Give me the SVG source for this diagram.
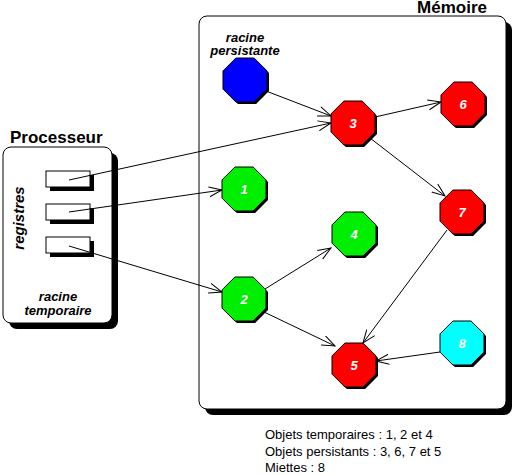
<svg xmlns="http://www.w3.org/2000/svg" xmlns:xlink="http://www.w3.org/1999/xlink" width="519" height="475" viewBox="0 0 519 475">
<style>
.title{font-family:"Liberation Sans",Arial,sans-serif;font-weight:bold;font-size:17px;fill:#000}
.lbl{font-family:"Liberation Sans",Arial,sans-serif;font-weight:bold;font-style:italic;font-size:13px;fill:#000;text-anchor:middle}
.num{font-family:"Liberation Sans",Arial,sans-serif;font-weight:bold;font-style:italic;font-size:13px;fill:#fff;text-anchor:middle}
.note{font-family:"Liberation Sans",Arial,sans-serif;font-size:13px;fill:#000}
.edge{stroke:#000;stroke-width:1;fill:none;marker-end:url(#arr)}
.oct{stroke:#000;stroke-width:1}
</style>
<defs>
<polygon id="oct" points="22,-9.1 22,9.1 9.1,22 -9.1,22 -22,9.1 -22,-9.1 -9.1,-22 9.1,-22"/>
<marker id="arr" viewBox="0 0 14 12" refX="13" refY="6" markerWidth="14" markerHeight="12" markerUnits="userSpaceOnUse" orient="auto">
<path d="M0,1 L13,6 L0,11" fill="none" stroke="#000" stroke-width="1"/>
</marker>
</defs>
<rect width="519" height="475" fill="#fff"/>

<g id="memoire">
<rect x="205" y="22" width="307" height="393" rx="8" fill="#000"/>
<rect x="199" y="16" width="307" height="393" rx="8" fill="#fff" stroke="#000" stroke-width="1"/>
<text class="title" x="487" y="13" text-anchor="end">Mémoire</text>
<text class="lbl" x="245" y="42">racine</text>
<text class="lbl" x="245" y="55">persistante</text>
</g>

<g id="processeur">
<rect x="9" y="153" width="109" height="176" rx="8" fill="#000"/>
<rect x="3" y="147" width="109" height="176" rx="8" fill="#fff" stroke="#000" stroke-width="1"/>
<text class="title" x="10" y="143">Processeur</text>
<text class="lbl" style="font-size:15px" transform="translate(24,218) rotate(-90)">registres</text>
<text class="lbl" x="58" y="301">racine</text>
<text class="lbl" x="58" y="315">temporaire</text>
<g id="reg1"><rect x="50" y="175" width="44" height="16" fill="#000"/><rect x="46" y="171" width="44" height="16" fill="#fff" stroke="#000"/></g>
<g id="reg2"><rect x="50" y="208" width="44" height="16" fill="#000"/><rect x="46" y="204" width="44" height="16" fill="#fff" stroke="#000"/></g>
<g id="reg3"><rect x="50" y="241" width="44" height="16" fill="#000"/><rect x="46" y="237" width="44" height="16" fill="#fff" stroke="#000"/></g>
</g>

<g id="connectors">
<line class="edge" x1="266" y1="91" x2="331" y2="116"/>
<line class="edge" x1="69" y1="180" x2="331" y2="123"/>
<line class="edge" x1="375" y1="117" x2="441" y2="102"/>
<line class="edge" x1="370" y1="138" x2="445" y2="196"/>
<line class="edge" x1="69" y1="212" x2="222" y2="190"/>
<line class="edge" x1="69" y1="246" x2="222" y2="292"/>
<line class="edge" x1="265" y1="289" x2="331" y2="248"/>
<line class="edge" x1="264" y1="312" x2="335" y2="346"/>
<line class="edge" x1="447" y1="230" x2="363" y2="343"/>
<line class="edge" x1="440" y1="352" x2="376" y2="361"/>
</g>

<g id="nblue"><use xlink:href="#oct" x="247" y="82" fill="#000"/><use xlink:href="#oct" class="oct" x="245" y="80" fill="#0000ff"/></g>
<g id="n3"><use xlink:href="#oct" x="355" y="125" fill="#000"/><use xlink:href="#oct" class="oct" x="353" y="123" fill="#ff0000"/><text class="num" x="353" y="128">3</text></g>
<g id="n6"><use xlink:href="#oct" x="465" y="106" fill="#000"/><use xlink:href="#oct" class="oct" x="463" y="104" fill="#ff0000"/><text class="num" x="463" y="109">6</text></g>
<g id="n1"><use xlink:href="#oct" x="246" y="191" fill="#000"/><use xlink:href="#oct" class="oct" x="244" y="189" fill="#00ee00"/><text class="num" x="244" y="194">1</text></g>
<g id="n4"><use xlink:href="#oct" x="356" y="236" fill="#000"/><use xlink:href="#oct" class="oct" x="354" y="234" fill="#00ee00"/><text class="num" x="354" y="239">4</text></g>
<g id="n7"><use xlink:href="#oct" x="464" y="214" fill="#000"/><use xlink:href="#oct" class="oct" x="462" y="212" fill="#ff0000"/><text class="num" x="462" y="217">7</text></g>
<g id="n2"><use xlink:href="#oct" x="246" y="301" fill="#000"/><use xlink:href="#oct" class="oct" x="244" y="299" fill="#00ee00"/><text class="num" x="244" y="304">2</text></g>
<g id="n5"><use xlink:href="#oct" x="356" y="367" fill="#000"/><use xlink:href="#oct" class="oct" x="354" y="365" fill="#ff0000"/><text class="num" x="354" y="370">5</text></g>
<g id="n8"><use xlink:href="#oct" x="464" y="345" fill="#000"/><use xlink:href="#oct" class="oct" x="462" y="343" fill="#00ffff"/><text class="num" x="462" y="348">8</text></g>

<g id="notes">
<text class="note" x="265" y="439">Objets temporaires : 1, 2 et 4</text>
<text class="note" x="265" y="456">Objets persistants : 3, 6, 7 et 5</text>
<text class="note" x="265" y="472">Miettes : 8</text>
</g>
</svg>
